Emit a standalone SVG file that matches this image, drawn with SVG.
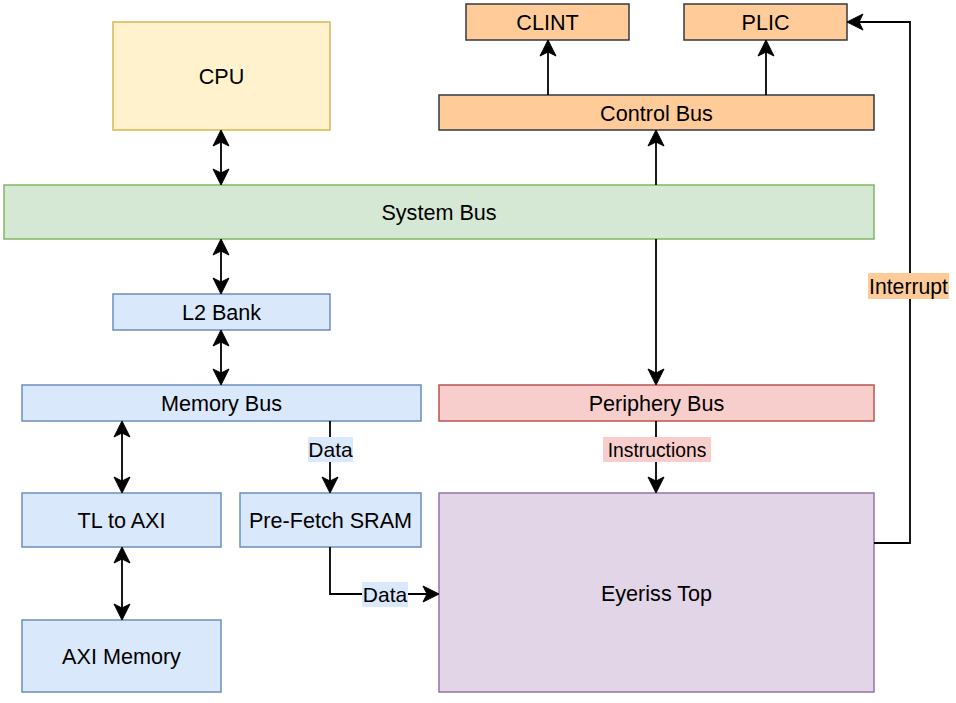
<svg xmlns="http://www.w3.org/2000/svg" width="956" height="703" viewBox="0 0 956 703">
<style>
.n{stroke-width:1.5}
.t{font-family:"Liberation Sans",Arial,sans-serif;font-size:21.6px;fill:#000;text-anchor:middle}
.lt{font-family:"Liberation Sans",Arial,sans-serif;font-size:21px;fill:#000;text-anchor:middle}
.blue{fill:#dae8fc;stroke:#6c8ebf}
.c{fill:none;stroke:#000;stroke-width:1.8}
.bi{marker-start:url(#a);marker-end:url(#a)}
.one{marker-end:url(#a)}
</style>
<defs>
<marker id="a" markerUnits="userSpaceOnUse" viewBox="-1 -9 18 18" markerWidth="18" markerHeight="18" refX="4" refY="0" orient="auto-start-reverse">
<path d="M16,0 L0,-8 L4,0 L0,8 Z" fill="#000" stroke="#000" stroke-width="1"/>
</marker>
</defs>
<rect width="956" height="703" fill="#fff"/>
<g id="cpu"><rect class="n" x="113" y="22" width="217" height="108" fill="#fff2cc" stroke="#d6b656"/><text class="t" x="221.5" y="84">CPU</text></g>
<g id="system-bus"><rect class="n" x="4" y="185" width="870" height="54" fill="#d5e8d4" stroke="#82b366"/><text class="t" x="439" y="220">System Bus</text></g>
<g id="l2-bank"><rect class="n blue" x="113" y="294" width="217" height="36"/><text class="t" x="221.5" y="320">L2 Bank</text></g>
<g id="memory-bus"><rect class="n blue" x="22" y="385" width="399" height="36"/><text class="t" x="221.5" y="411">Memory Bus</text></g>
<g id="tl-to-axi"><rect class="n blue" x="22" y="493" width="199" height="54"/><text class="t" x="121.5" y="528">TL to AXI</text></g>
<g id="axi-memory"><rect class="n blue" x="22" y="620" width="199" height="72"/><text class="t" x="121.5" y="664">AXI Memory</text></g>
<g id="prefetch-sram"><rect class="n blue" x="240" y="493" width="181" height="54"/><text class="t" x="330.5" y="528">Pre-Fetch SRAM</text></g>
<g id="periphery-bus"><rect class="n" x="439" y="385" width="435" height="36" fill="#f8cecc" stroke="#b85450"/><text class="t" x="656.5" y="411">Periphery Bus</text></g>
<g id="eyeriss-top"><rect class="n" x="439" y="493" width="435" height="199" fill="#e1d5e7" stroke="#9673a6"/><text class="t" x="656.5" y="600.5">Eyeriss Top</text></g>
<g id="control-bus"><rect class="n" x="439" y="95" width="435" height="35" fill="#ffcc99" stroke="#36393d"/><text class="t" x="656.5" y="120.5">Control Bus</text></g>
<g id="clint"><rect class="n" x="466" y="4" width="163" height="36" fill="#ffcc99" stroke="#36393d"/><text class="t" x="547.5" y="30">CLINT</text></g>
<g id="plic"><rect class="n" x="684" y="4" width="163" height="36" fill="#ffcc99" stroke="#36393d"/><text class="t" x="765.5" y="30">PLIC</text></g>
<g id="connectors">
<path class="c bi" d="M221,142 V173"/>
<path class="c bi" d="M221,251 V282"/>
<path class="c bi" d="M221,342 V373"/>
<path class="c bi" d="M122,433 V481"/>
<path class="c bi" d="M122,559 V608"/>
<path class="c one" d="M330,421 V481"/>
<path class="c one" d="M330,547 V594 H427"/>
<path class="c one" d="M656,185 V142"/>
<path class="c one" d="M548,95 V52"/>
<path class="c one" d="M766,95 V52"/>
<path class="c one" d="M656,239 V373"/>
<path class="c one" d="M656,421 V481"/>
<path class="c one" d="M874,543 H910 V22 H859"/>
<g id="label-data1"><rect x="308" y="437" width="45" height="25" fill="#dae8fc"/><text class="lt" x="330.5" y="457">Data</text></g>
<g id="label-instructions"><rect x="603" y="437" width="108" height="25" fill="#f8cecc"/><text class="lt" x="657" y="457" style="font-size:19.3px">Instructions</text></g>
<g id="label-data2"><rect x="362" y="582" width="46" height="25" fill="#dae8fc"/><text class="lt" x="385" y="602">Data</text></g>
<g id="label-interrupt"><rect x="868" y="273" width="81" height="26" fill="#ffcc99"/><text class="lt" x="908.5" y="293.5" style="font-size:21.2px">Interrupt</text></g>
</g>
</svg>
